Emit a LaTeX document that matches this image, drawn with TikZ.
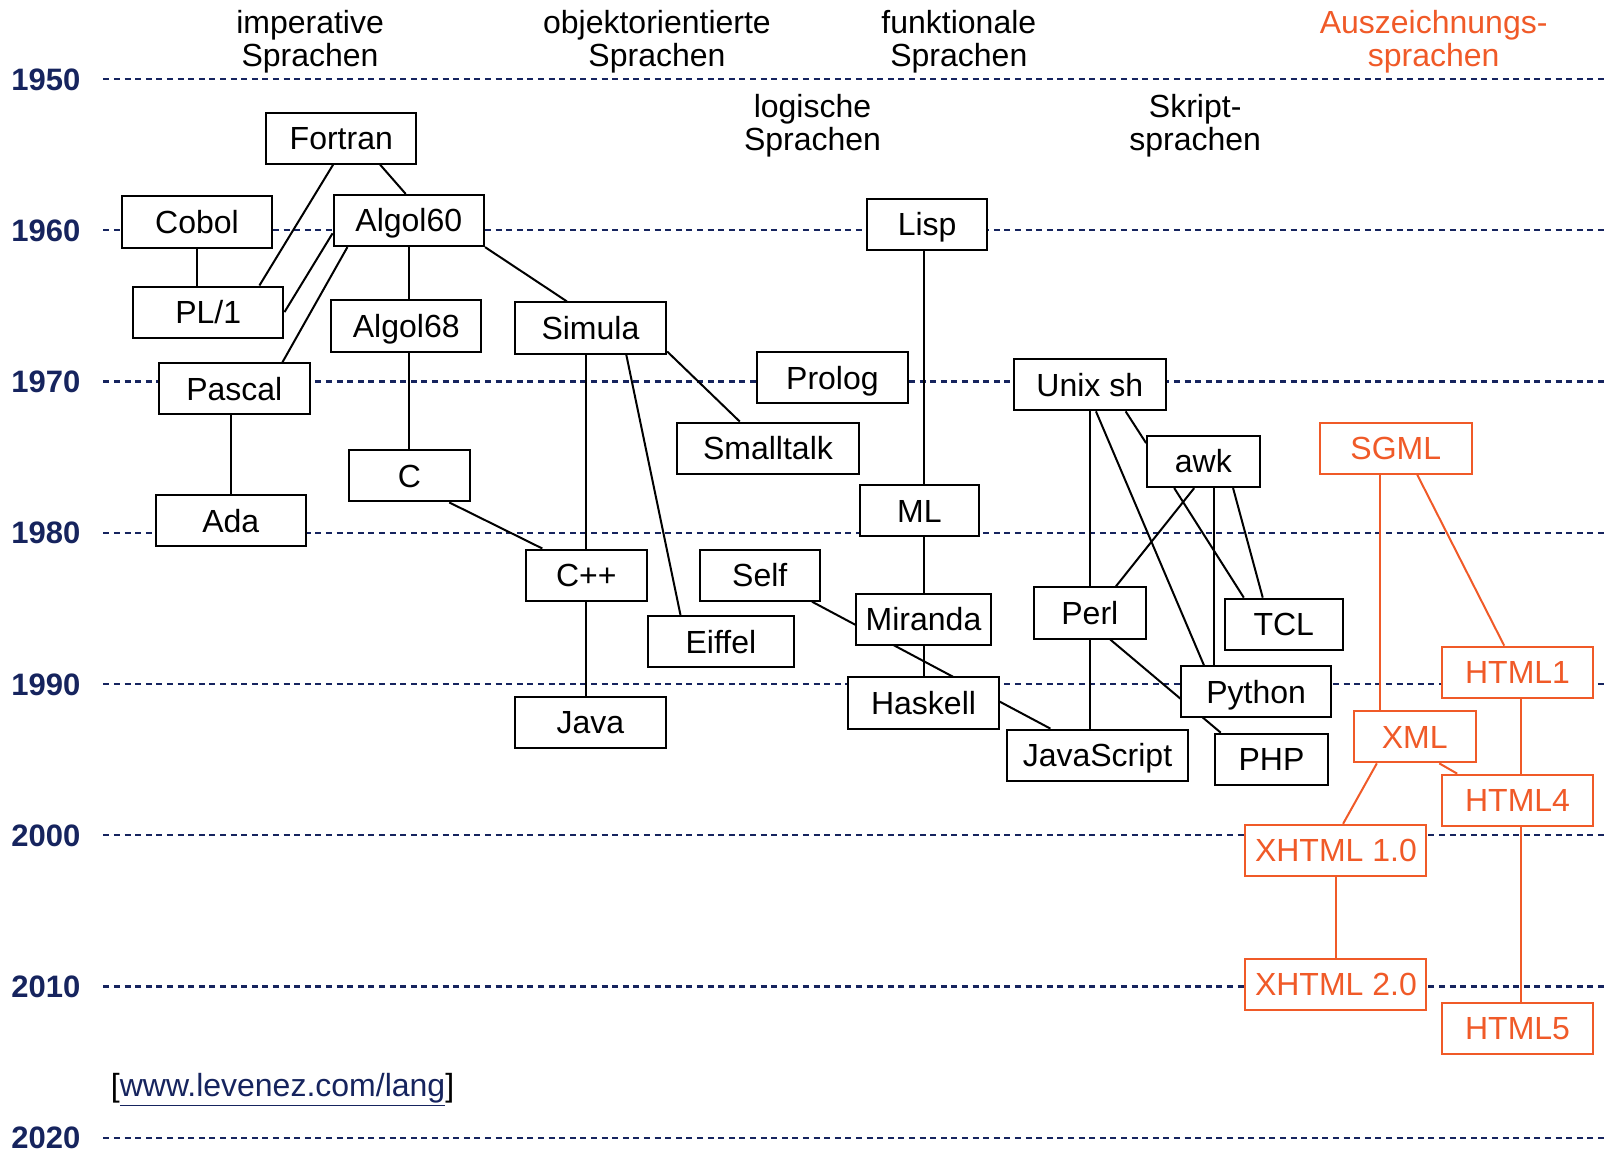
\documentclass[tikz,border=0pt]{standalone}
\usepackage{fontspec}
\setmainfont{Liberation Sans}
\usetikzlibrary{calc}
\definecolor{navy}{RGB}{22,36,94}
\definecolor{orangeM}{RGB}{240,90,40}
\pgfdeclarelayer{bg}
\pgfsetlayers{bg,main}
\begin{document}
\begin{tikzpicture}[x=0.51165pt, y=-0.51165pt,
  lang/.style={draw, line width=1pt, fill=white, minimum height=25.58pt, inner sep=0pt,
    font=\fontsize{16}{16.5}\selectfont, text height=11.46pt, text depth=0pt},
  olang/.style={lang, draw=orangeM, text=orangeM},
  bw/.style={minimum width={#1*0.51165pt}},
  edge/.style={line width=1pt},
  oedge/.style={line width=1pt, draw=orangeM},
  yline/.style={draw=navy, line width=1.2pt, dash pattern=on 3pt off 2.3pt},
  year/.style={font=\fontsize{15.5}{16}\selectfont\bfseries, text=navy, inner sep=0pt, anchor=east, text height=11.1pt, text depth=0pt},
  head/.style={font=\fontsize{16}{16.5}\selectfont, align=center, inner sep=0pt}]
\useasboundingbox (0,0) rectangle (1567.5,1122.9);

% headers
\node[head] (h1) at (303,41) {imperative\\Sprachen};
\node[head] (h2) at (642,41) {objektorientierte\\Sprachen};
\node[head] (h3) at (937,41) {funktionale\\Sprachen};
\node[head] (h4) at (794,123) {logische\\Sprachen};
\node[head] (h5) at (1168,123) {Skript-\\sprachen};
\node[head, text=orangeM] (h6) at (1401,41) {Auszeichnungs-\\sprachen};

% year labels
\foreach \yr [count=\i from 0] in {1950,1960,...,2020}{
  \pgfmathsetmacro\yy{77.2+147.8*\i}
  \node[year] (y\yr) at (79,\yy) {\yr};
}

% languages
\node[lang, bw=147] (Fortran) at (333.5,135) {Fortran};
\node[lang, bw=147] (Cobol) at (192.5,217) {Cobol};
\node[lang, bw=147] (Algol60) at (399.5,215.5) {Algol60};
\node[lang, bw=147] (PL1) at (203.5,305) {PL/1};
\node[lang, bw=147] (Algol68) at (397,318.5) {Algol68};
\node[lang, bw=148] (Simula) at (577,320.5) {Simula};
\node[lang, bw=148] (Pascal) at (229,380) {Pascal};
\node[lang, bw=147] (Prolog) at (813.5,369) {Prolog};
\node[lang, bw=177] (Smalltalk) at (750.5,438) {Smalltalk};
\node[lang, bw=118] (C) at (400,465) {C};
\node[lang, bw=147] (Ada) at (225.5,509) {Ada};
\node[lang, bw=118] (Lisp) at (906,219) {Lisp};
\node[lang, bw=117] (ML) at (898.5,499) {ML};
\node[lang, bw=118] (CPP) at (573,562) {C++};
\node[lang, bw=117] (Self) at (742.5,562) {Self};
\node[lang, bw=143] (Eiffel) at (704.5,627) {Eiffel};
\node[lang, bw=132] (Miranda) at (902.5,605) {Miranda};
\node[lang, bw=147] (Haskell) at (902.5,687) {Haskell};
\node[lang, bw=148] (Java) at (577,706) {Java};
\node[lang, bw=148] (Unix) at (1065,376) {Unix sh};
\node[lang, bw=110] (awk) at (1176,451) {awk};
\node[lang, bw=110] (Perl) at (1065,599) {Perl};
\node[lang, bw=115] (TCL) at (1254.5,610) {TCL};
\node[lang, bw=147] (Python) at (1227.5,676) {Python};
\node[lang, bw=177] (JS) at (1072.5,738) {JavaScript};
\node[lang, bw=111] (PHP) at (1242.5,742) {PHP};
\node[olang, bw=148] (SGML) at (1364,438) {SGML};
\node[olang, bw=148] (HTML1) at (1483,657) {HTML1};
\node[olang, bw=119] (XML) at (1382.5,720) {XML};
\node[olang, bw=148] (HTML4) at (1483,782) {HTML4};
\node[olang, bw=177] (XHTML1) at (1305.5,831) {XHTML 1.0};
\node[olang, bw=177] (XHTML2) at (1305.5,962) {XHTML 2.0};
\node[olang, bw=148] (HTML5) at (1483,1005) {HTML5};

% source
\node[anchor=west, inner sep=0pt, font=\fontsize{16}{16.5}\selectfont] (cite) at (108,1065)
  {[\textcolor{navy}{\underline{www.levenez.com/lang}}]};

\begin{pgfonlayer}{bg}
\foreach \i in {0,...,7}{
  \pgfmathsetmacro\yy{77.2+147.8*\i}
  \draw[yline] (101,\yy) -- (1567.5,\yy);
}
\draw[edge] ($(Fortran.south)+(-8,0)$) -- ($(PL1.north)+(50,0)$);
\draw[edge] ($(Fortran.south)+(38,0)$) -- ($(Algol60.north)+(-3,0)$);
\draw[edge] (Cobol.south) -- (Cobol.south |- PL1.north);
\draw[edge] ($(Algol60.west)+(0,12.5)$) -- (PL1.east);
\draw[edge] ($(Algol60.south)+(-60,0)$) -- ($(Pascal.north)+(47,0)$);
\draw[edge] (Algol60.south) -- (Algol60.south |- Algol68.north);
\draw[edge] (Algol60.south east) -- ($(Simula.north)+(-23,0)$);
\draw[edge] (C.north |- Algol68.south) -- (C.north);
\draw[edge] (Ada.north |- Pascal.south) -- (Ada.north);
\draw[edge] ($(Simula.south east)+(0,-3)$) -- ($(Smalltalk.north)+(-27.5,0)$);
\draw[edge] ($(Simula.south)+(35,0)$) -- ($(Eiffel.north)+(-39.5,0)$);
\draw[edge] (CPP.north |- Simula.south) -- (CPP.north);
\draw[edge] ($(C.south)+(39,0)$) -- ($(CPP.north)+(-43,0)$);
\draw[edge] (CPP.south) -- (CPP.south |- Java.north);
\draw[edge] (Lisp.south -| Miranda.north) -- (ML.north -| Miranda.north);
\draw[edge] (ML.south -| Miranda.north) -- (Miranda.north);
\draw[edge] (Miranda.south) -- (Miranda.south |- Haskell.north);
\draw[edge] ($(Self.south)+(51,0)$) -- ($(JS.north)+(-46,0)$);
\draw[edge] (Perl.north |- Unix.south) -- (Perl.north);
\draw[edge] (Perl.south) -- (Perl.south |- JS.north);
\draw[edge] ($(Unix.south)+(6,0)$) -- ($(Python.north)+(-51,0)$);
\draw[edge] ($(Unix.south)+(35,0)$) -- ($(awk.west)+(0,-18)$);
\draw[edge] ($(awk.south)+(-9,0)$) -- ($(Perl.north)+(25.5,0)$);
\draw[edge] ($(awk.south)+(-28.5,0)$) -- ($(TCL.north)+(-39,0)$);
\draw[edge] ($(awk.south)+(29,0)$) -- ($(TCL.north)+(-20.5,0)$);
\draw[edge] ($(awk.south)+(10,0)$) -- ($(Python.north)+(-41.5,0)$);
\draw[edge] ($(Perl.south)+(20,0)$) -- ($(PHP.north)+(-49.5,0)$);
\draw[oedge] ($(SGML.south)+(-15,0)$) -- ($(XML.north)+(-33.5,0)$);
\draw[oedge] ($(SGML.south)+(21,0)$) -- ($(HTML1.north)+(-13,0)$);
\draw[oedge] ($(HTML1.south)+(3,0)$) -- ($(HTML4.north)+(3,0)$);
\draw[oedge] ($(XML.south)+(24,0)$) -- ($(HTML4.north)+(-59,0)$);
\draw[oedge] ($(XML.south)+(-37,0)$) -- ($(XHTML1.north)+(7,0)$);
\draw[oedge] (XHTML1.south) -- (XHTML2.north);
\draw[oedge] ($(HTML4.south)+(3,0)$) -- ($(HTML5.north)+(3,0)$);
\end{pgfonlayer}
\end{tikzpicture}
\end{document}
